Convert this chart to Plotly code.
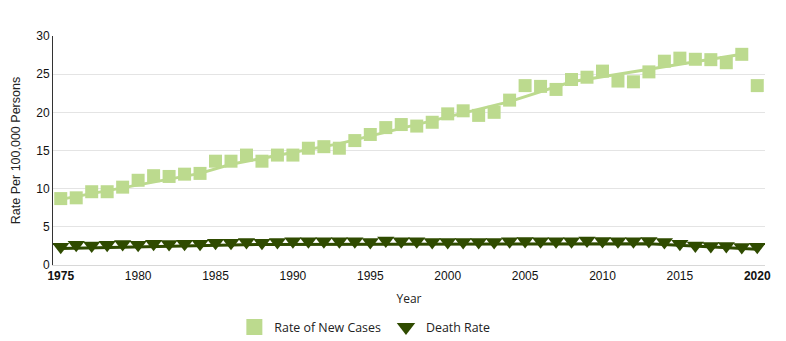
import plotly.graph_objects as go

years = list(range(1975, 2021))

new_cases = [8.7, 8.8, 9.6, 9.6, 10.2, 11.1, 11.7, 11.6, 11.9, 12.0,
             13.6, 13.6, 14.4, 13.6, 14.4, 14.4, 15.3, 15.5, 15.3, 16.3,
             17.1, 18.0, 18.4, 18.2, 18.7, 19.8, 20.2, 19.6, 20.0, 21.6,
             23.5, 23.4, 23.0, 24.3, 24.6, 25.4, 24.1, 24.0, 25.3, 26.7,
             27.1, 26.95, 26.9, 26.5, 27.6, 23.5]

death_rate = [2.1, 2.35, 2.25, 2.35, 2.45, 2.35, 2.5, 2.45, 2.5, 2.5,
              2.6, 2.6, 2.7, 2.6, 2.7, 2.8, 2.8, 2.8, 2.8, 2.8,
              2.7, 2.9, 2.8, 2.8, 2.7, 2.7, 2.7, 2.7, 2.7, 2.8,
              2.85, 2.8, 2.8, 2.8, 2.9, 2.85, 2.8, 2.8, 2.85, 2.7,
              2.5, 2.25, 2.2, 2.2, 2.05, 2.1]

# joinpoint trend lines (joint years and fitted values)
new_trend_years = [1975, 1984, 1986, 1993, 2004, 2008, 2019]
new_trend_vals = [8.6, 12.0, 13.2, 15.9, 21.4, 24.0, 27.6]
death_trend_years = [1975, 1988, 2013, 2020]
death_trend_vals = [2.15, 2.7, 2.8, 2.05]

x_ticks = [1975, 1980, 1985, 1990, 1995, 2000, 2005, 2010, 2015, 2020]
x_tick_text = ["<b>1975</b>", "1980", "1985", "1990", "1995", "2000",
               "2005", "2010", "2015", "<b>2020</b>"]
y_ticks = [0, 5, 10, 15, 20, 25, 30]

LIGHT = "#bcda8e"
DARK = "#2f4b00"

fig = go.Figure()
fig.add_trace(go.Scatter(x=new_trend_years, y=new_trend_vals, mode="lines",
                         line=dict(color=LIGHT, width=3), showlegend=False,
                         hoverinfo="skip"))
fig.add_trace(go.Scatter(x=death_trend_years, y=death_trend_vals, mode="lines",
                         line=dict(color=DARK, width=3), showlegend=False,
                         hoverinfo="skip"))
fig.add_trace(go.Scatter(x=years, y=new_cases, mode="markers",
                         name="Rate of New Cases", showlegend=False,
                         marker=dict(symbol="square", size=13, color=LIGHT)))
fig.add_trace(go.Scatter(x=years, y=death_rate, mode="markers",
                         name="Death Rate", yaxis="y2", showlegend=False,
                         marker=dict(symbol="triangle-down", size=15, color=DARK,
                                     line=dict(width=0))))
# legend entries (larger symbols, as in the reference legend)
fig.add_trace(go.Scatter(x=[None], y=[None], mode="markers",
                         name="Rate of New Cases",
                         marker=dict(symbol="square", size=16, color=LIGHT)))
fig.add_trace(go.Scatter(x=[None], y=[None], mode="markers",
                         name="Death Rate",
                         marker=dict(symbol="triangle-down", size=16, color=DARK)))

fig.update_layout(
    width=786, height=341,
    margin=dict(l=53, r=21, t=36, b=76, autoexpand=False),
    paper_bgcolor="white", plot_bgcolor="white",
    font=dict(family="Liberation Sans, Arial, sans-serif", size=12, color="#222"),
    xaxis=dict(range=[1974.5, 2020.5], tickvals=x_ticks, ticktext=x_tick_text,
               showgrid=False, zeroline=False, showline=True,
               linecolor="#d8d8d8", linewidth=1, ticks="",
               tickfont=dict(size=12, color="#111"),
               title=dict(text="Year", standoff=12,
                          font=dict(family="Open Sans, sans-serif", size=12, color="#222"))),
    yaxis=dict(range=[0, 30], tickvals=y_ticks, showgrid=True,
               gridcolor="#e4e4e4", gridwidth=1, zeroline=False,
               showline=True, linecolor="#333", linewidth=1, ticks="",
               tickfont=dict(size=12, color="#111"),
               title=dict(text="Rate Per 100,000 Persons", standoff=12,
                          font=dict(family="Liberation Sans, Arial, sans-serif", size=12.5, color="#222"))),
    yaxis2=dict(range=[-0.3, 29.7], overlaying="y", visible=False),
    legend=dict(orientation="h", x=0.438, xanchor="center",
                yref="container", y=0.04, yanchor="middle",
                font=dict(family="Open Sans, sans-serif", size=12.4, color="#222"),
                itemsizing="trace"),
    showlegend=True,
)

fig.write_html("out.html")
